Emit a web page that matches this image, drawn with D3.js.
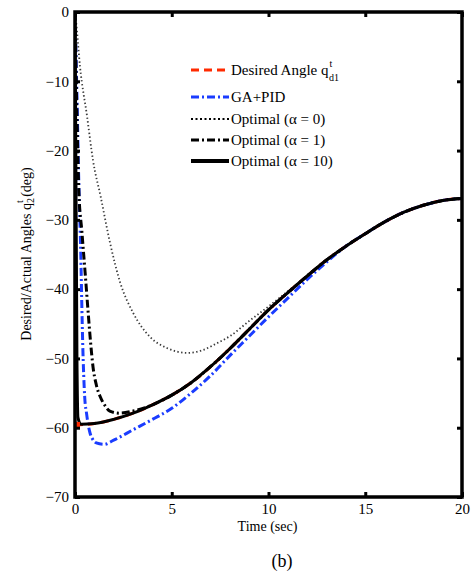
<!DOCTYPE html>
<html>
<head>
<meta charset="utf-8">
<script src="https://d3js.org/d3.v7.min.js"></script>
<style>
  body { margin: 0; background: #fff; }
  text { font-family: "Liberation Serif", "DejaVu Serif", serif; fill: #000; }
</style>
</head>
<body>
<script>
// Chart data
var xTicks = [0, 5, 10, 15, 20];
var yTicks = [0, -10, -20, -30, -40, -50, -60, -70];

// desired angle q_d1^t
var desiredT = [0, 1, 2, 3, 4, 5, 6, 7, 8, 9, 10, 11, 12, 13, 14, 15, 16, 17, 18, 19, 20];
var desiredQ = [-59.6, -59.4, -58.8, -57.9, -56.7, -55.3, -53.5, -51.2, -48.6, -45.8, -43.0, -40.5, -38.1, -35.8, -33.8, -32.0, -30.3, -28.9, -27.9, -27.2, -26.9];

// GA+PID
var gaT = [0, 0.1, 0.2, 0.3, 0.35, 0.4, 0.5, 0.6, 0.78, 0.9, 1.1, 1.5, 2, 3, 4, 5, 6, 7, 8, 9, 10, 11, 12, 13, 14, 15, 16, 17, 18, 19, 20];
var gaQ = [0, -12, -25, -35, -42, -48, -55.5, -58, -60.8, -61.6, -62.2, -62.4, -61.8, -60.3, -58.8, -57.2, -55.0, -52.5, -49.6, -46.8, -44.0, -41.3, -38.6, -36.1, -33.8, -32.0, -30.3, -28.9, -27.9, -27.2, -26.9];

// Optimal (alpha = 0)
var opt0T = [0, 0.05, 0.26, 0.62, 0.93, 1.33, 1.81, 2.33, 3.0, 3.88, 4.75, 5.8, 6.6, 7.34, 8, 9, 10, 11, 12, 13, 14, 15, 16, 17, 18, 19, 20];
var opt0Q = [0, -1.2, -7.9, -15, -21.4, -26.7, -33.3, -39, -43.4, -46.9, -48.5, -49.2, -48.8, -47.8, -46.8, -44.6, -42.5, -40.3, -38.1, -35.8, -33.8, -32.0, -30.3, -28.9, -27.9, -27.2, -26.9];

// Optimal (alpha = 1)
var opt1T = [0, 0.05, 0.1, 0.2, 0.35, 0.52, 0.67, 0.8, 0.93, 1.1, 1.3, 1.55, 1.8, 2.3, 3, 4, 5, 6, 7, 8, 9, 10, 11, 12, 13, 14, 15, 16, 17, 18, 19, 20];
var opt1Q = [0, -8, -15, -26, -31.5, -37.5, -43, -47.5, -51.2, -53.8, -55.5, -56.8, -57.6, -57.9, -57.6, -56.7, -55.3, -53.5, -51.2, -48.6, -45.8, -43.0, -40.5, -38.1, -35.8, -33.8, -32.0, -30.3, -28.9, -27.9, -27.2, -26.9];

// Optimal (alpha = 10)
var opt10T = [0, 0.1, 0.15, 0.3, 1, 2, 3, 4, 5, 6, 7, 8, 9, 10, 11, 12, 13, 14, 15, 16, 17, 18, 19, 20];
var opt10Q = [0, -50, -58.5, -59.5, -59.4, -58.8, -57.9, -56.7, -55.3, -53.5, -51.2, -48.6, -45.8, -43.0, -40.5, -38.1, -35.8, -33.8, -32.0, -30.3, -28.9, -27.9, -27.2, -26.9];

var svgWidth = 476;
var svgHeight = 578;
var margin = { top: 12, right: 14, bottom: 81, left: 75 };
var width = svgWidth - margin.left - margin.right;
var height = svgHeight - margin.top - margin.bottom;

var svg = d3.select("body").append("svg")
  .attr("width", svgWidth)
  .attr("height", svgHeight);

var chartGroup = svg.append("g")
  .attr("transform", `translate(${margin.left}, ${margin.top})`);

var xScale = d3.scaleLinear().domain([0, 20]).range([0, width]);
var yScale = d3.scaleLinear().domain([-70, 0]).range([height, 0]);

chartGroup.append("clipPath").attr("id", "clip")
  .append("rect").attr("width", width).attr("height", height);

var line = d3.line()
  .x(d => xScale(d[0]))
  .y(d => yScale(d[1]))
  .curve(d3.curveMonotoneX);

function zip(t, q) { return t.map((v, i) => [v, q[i]]); }

var series = [
  { name: "desired", t: desiredT, q: desiredQ, color: "#ff2a00", w: 3, dash: "8,5" },
  { name: "ga", t: gaT, q: gaQ, color: "#1a3cff", w: 3, dash: "8,3,2,3" },
  { name: "opt0", t: opt0T, q: opt0Q, color: "#3a3a3a", w: 1.8, dash: "1.4,2.4" },
  { name: "opt1", t: opt1T, q: opt1Q, color: "#000", w: 3, dash: "8,3,2,3" },
  { name: "opt10", t: opt10T, q: opt10Q, color: "#000", w: 3, dash: null }
];

var plot = chartGroup.append("g").attr("clip-path", "url(#clip)");
series.forEach(function(s) {
  plot.append("path")
    .datum(zip(s.t, s.q))
    .attr("d", line)
    .attr("fill", "none")
    .attr("stroke", s.color)
    .attr("stroke-width", s.w)
    .attr("stroke-dasharray", s.dash)
    .attr("stroke-linejoin", "round");
});

// small red start of desired angle visible at t = 0
chartGroup.append("rect")
  .attr("x", xScale(0))
  .attr("y", yScale(desiredQ[0]) - 3)
  .attr("width", 5).attr("height", 6)
  .attr("fill", "#ff2a00");

// axes (ticks pointing inside, box)
var bottomAxis = d3.axisBottom(xScale).tickValues(xTicks).tickSize(-5).tickPadding(6).tickFormat(d3.format("d"));
var topAxis = d3.axisTop(xScale).tickValues(xTicks).tickSize(-5).tickFormat("");
var leftAxis = d3.axisLeft(yScale).tickValues(yTicks).tickSize(-5).tickPadding(6)
  .tickFormat(d => d < 0 ? "\u2212" + Math.abs(d) : d);
var rightAxis = d3.axisRight(yScale).tickValues(yTicks).tickSize(-5).tickFormat("");

var axes = [
  chartGroup.append("g").attr("transform", `translate(0, ${height})`).call(bottomAxis),
  chartGroup.append("g").call(topAxis),
  chartGroup.append("g").call(leftAxis),
  chartGroup.append("g").attr("transform", `translate(${width}, 0)`).call(rightAxis)
];
axes.forEach(function(a) {
  a.select(".domain").remove();
  a.selectAll("line").attr("stroke", "#000").attr("stroke-width", 3);
  a.selectAll("text").attr("font-size", "15px").attr("font-family", "Liberation Serif");
});

chartGroup.append("rect")
  .attr("width", width).attr("height", height)
  .attr("fill", "none").attr("stroke", "#000").attr("stroke-width", 3.5);

// legend
var legendNames = ["Desired Angle q", "GA+PID", "Optimal (\u03b1 = 0)", "Optimal (\u03b1 = 1)", "Optimal (\u03b1 = 10)"];
var legendY = [70, 97, 119, 140, 161];
var legend = svg.append("g");
series.forEach(function(s, i) {
  legend.append("line")
    .attr("x1", 191).attr("x2", 229)
    .attr("y1", legendY[i]).attr("y2", legendY[i])
    .attr("stroke", s.name === "opt0" ? "#000" : s.color)
    .attr("stroke-width", s.name === "opt0" ? 2.2 : (s.name === "opt10" ? 4 : 3.2))
    .attr("stroke-dasharray", s.name === "opt0" ? "2,2.5" : s.dash);
  var txt = legend.append("text")
    .attr("x", 231).attr("y", legendY[i] + 5)
    .attr("font-size", "15px")
    .text(legendNames[i]);
  if (i === 0) {
    var end = 231 + txt.node().getComputedTextLength();
    legend.append("text").attr("x", end + 1).attr("y", legendY[i] - 3)
      .attr("font-size", "10px").text("t");
    legend.append("text").attr("x", end + 0.5).attr("y", legendY[i] + 11)
      .attr("font-size", "10px").text("d1");
  }
});

// axis labels
svg.append("text")
  .attr("x", margin.left + width / 2 - 1).attr("y", 531)
  .attr("text-anchor", "middle").attr("font-size", "14px")
  .text("Time (sec)");

var yLabel = svg.append("text")
  .attr("transform", "translate(31, 254) rotate(-90)")
  .attr("text-anchor", "middle").attr("font-size", "14px");
yLabel.append("tspan").text("Desired/Actual Angles q");
yLabel.append("tspan").attr("font-size", "10px").attr("dy", 3).text("2");
yLabel.append("tspan").attr("font-size", "10px").attr("dx", -5).attr("dy", -11).text("t");
yLabel.append("tspan").attr("dy", 8).text(" (deg)");

svg.append("text")
  .attr("x", 282).attr("y", 567)
  .attr("text-anchor", "middle").attr("font-size", "18px")
  .text("(b)");
</script>
</body>
</html>
